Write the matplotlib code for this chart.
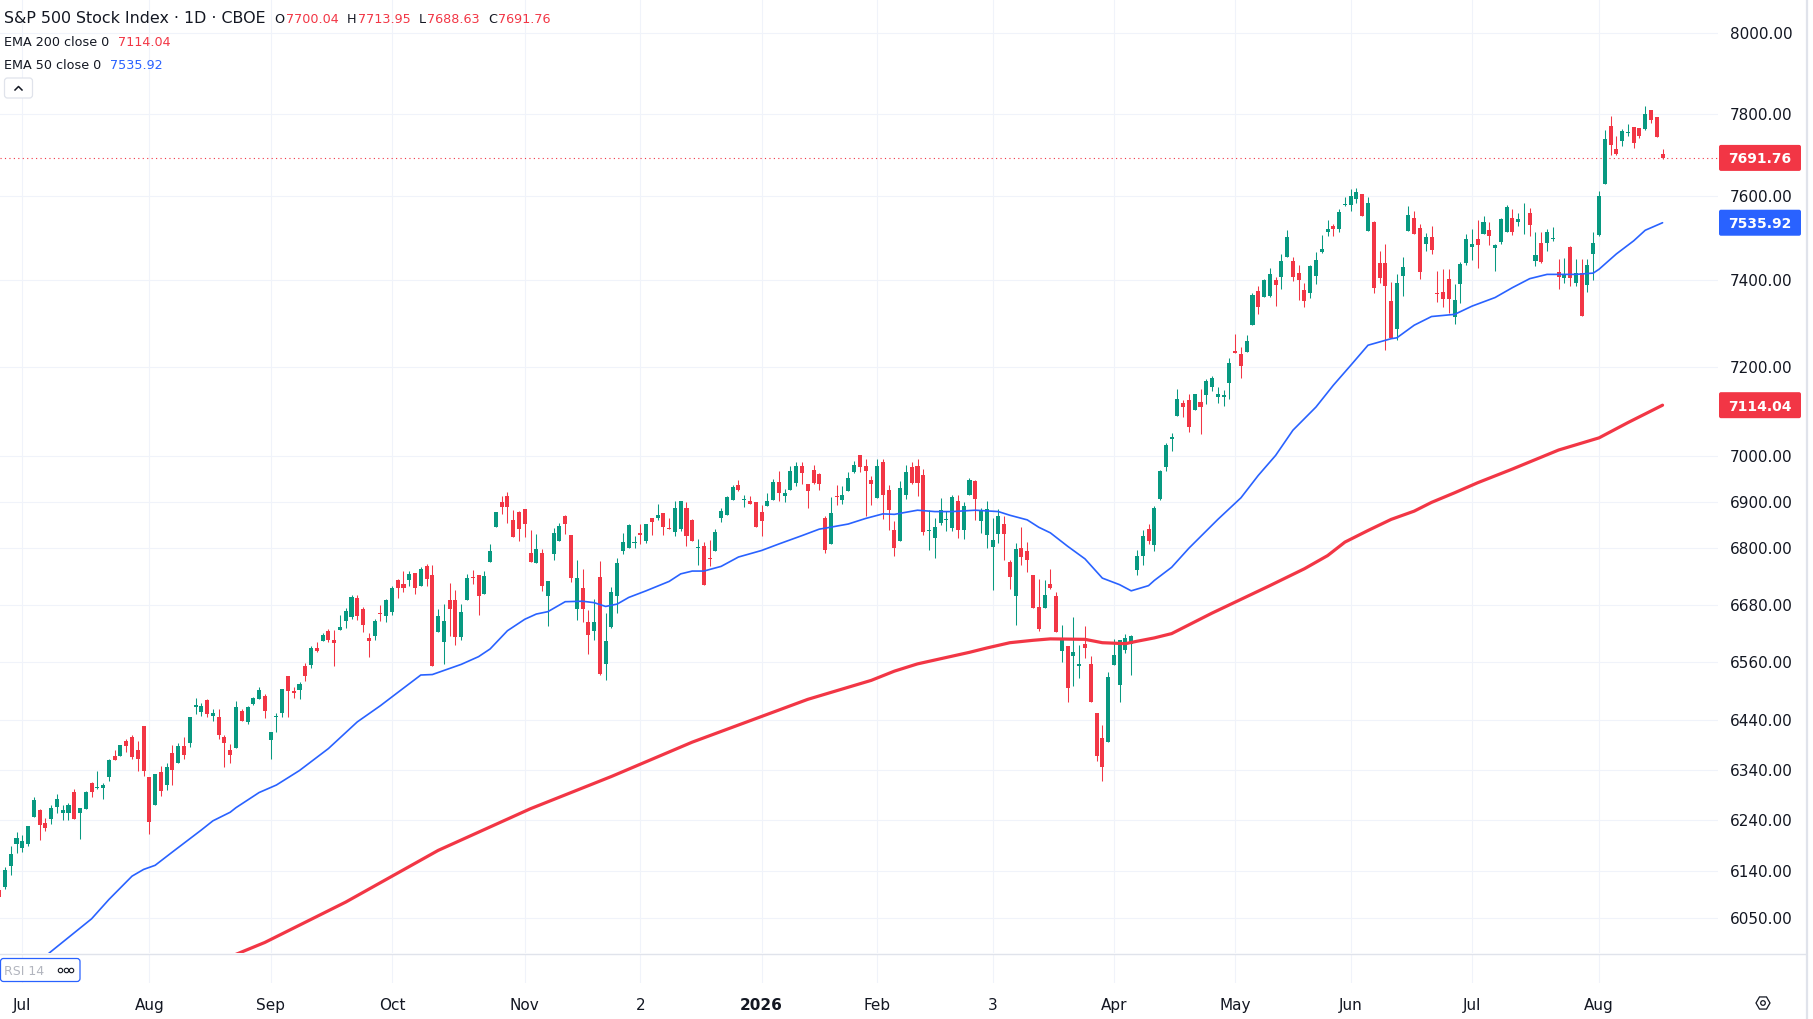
#S&P 500 daily candles with EMA 50 / EMA 200, TradingView look

import numpy as np
import matplotlib
matplotlib.use('Agg')
import matplotlib.pyplot as plt
import matplotlib.transforms as mtransforms
from matplotlib.patches import FancyBboxPatch, RegularPolygon, Circle
from matplotlib.lines import Line2D
from matplotlib.ticker import NullLocator, NullFormatter

#Daily OHLC, late Jun 2025 .. 18 Aug 2026 (one row per month)
opens = [6105, 6110, 6151, 6194,
    6186, 6194, 6247, 6260, 6235, 6243, 6267, 6255, 6255, 6296, 6255, 6262, 6313, 6304, 6305, 6326, 6369, 6369, 6398, 6407, 6381, 6428,
    6326, 6271, 6336, 6310, 6375, 6354, 6388, 6394, 6467, 6457, 6481, 6450, 6446, 6407, 6381, 6385, 6460, 6436, 6473, 6484, 6490,
    6401, 6446, 6456, 6531, 6500, 6503, 6551, 6553, 6590, 6603, 6625, 6605, 6626, 6645, 6654, 6694, 6670, 6609, 6614, 6663, 6656,
    6665, 6732, 6724, 6732, 6747, 6720, 6762, 6743, 6622, 6601, 6689, 6689, 6611, 6690, 6739, 6743, 6703, 6771, 6846, 6899, 6912, 6861, 6879,
    6884, 6790, 6769, 6790, 6697, 6787, 6816, 6869, 6828, 6671, 6715, 6643, 6624, 6739, 6555, 6633, 6697, 6793, 6801,
    6811, 6832, 6816, 6866, 6865, 6875, 6843, 6834, 6841, 6887, 6861, 6801, 6804, 6779, 6793, 6866, 6871, 6904, 6937, 6904, 6901, 6900,
    6879, 6891, 6905, 6944, 6913, 6925, 6942, 6978, 6939, 6970, 6961, 6866, 6809, 6913, 6905, 6923, 6966, 7003, 6978, 6947,
    6908, 6987, 6925, 6839, 6816, 6916, 6976, 6978, 6959, 6837, 6821, 6854, 6861, 6843, 6902, 6839, 6915, 6946, 6858,
    6828, 6802, 6831, 6851, 6771, 6699, 6800, 6793, 6743, 6674, 6672, 6724, 6699, 6582, 6593, 6573, 6551, 6598, 6555, 6456, 6405, 6396,
    6554, 6513, 6584, 6597, 6754, 6784, 6841, 6806, 6906, 6977, 7038, 7089, 7120, 7125, 7103, 7121, 7136, 7154, 7133, 7132, 7163,
    7237, 7231, 7234, 7296, 7376, 7362, 7363, 7402, 7409, 7454, 7445, 7417, 7378, 7370, 7411, 7467, 7515, 7529, 7521, 7578,
    7579, 7593, 7605, 7516, 7537, 7440, 7440, 7351, 7288, 7410, 7516, 7548, 7524, 7485, 7501, 7370, 7372, 7404, 7314, 7392, 7440,
    7479, 7497, 7508, 7518, 7475, 7490, 7513, 7548, 7537, 7573, 7558, 7446, 7489, 7489, 7498, 7420, 7406, 7479, 7395, 7417, 7389, 7462,
    7506, 7629, 7769, 7714, 7733, 7753, 7767, 7765, 7763, 7808, 7791, 7700.04]

highs = [6108, 6148, 6190, 6218,
    6211, 6229, 6286, 6262, 6245, 6270, 6292, 6270, 6274, 6303, 6265, 6298, 6316, 6337, 6313, 6363, 6381, 6390, 6403, 6410, 6398, 6428,
    6326, 6331, 6347, 6353, 6390, 6395, 6407, 6446, 6486, 6475, 6483, 6463, 6463, 6410, 6392, 6479, 6463, 6470, 6487, 6509, 6493,
    6416, 6455, 6504, 6532, 6509, 6519, 6557, 6593, 6601, 6620, 6628, 6626, 6658, 6673, 6701, 6701, 6674, 6620, 6649, 6680, 6691,
    6720, 6734, 6751, 6751, 6747, 6759, 6766, 6764, 6670, 6681, 6726, 6711, 6681, 6744, 6754, 6743, 6751, 6809, 6878, 6912, 6922, 6882, 6881,
    6884, 6840, 6830, 6799, 6730, 6844, 6855, 6871, 6828, 6775, 6756, 6668, 6691, 6773, 6662, 6717, 6779, 6833, 6853,
    6826, 6851, 6852, 6866, 6896, 6875, 6866, 6901, 6901, 6900, 6862, 6820, 6813, 6818, 6841, 6887, 6913, 6938, 6947, 6916, 6913, 6900,
    6894, 6919, 6950, 6967, 6929, 6978, 6987, 6987, 6939, 6982, 6964, 6870, 6910, 6938, 6935, 6966, 6990, 7003, 6994, 6957,
    6994, 6994, 6936, 6859, 6946, 6981, 6988, 6994, 6973, 6882, 6864, 6909, 6880, 6916, 6916, 6899, 6953, 6948, 6887,
    6901, 6866, 6885, 6870, 6774, 6811, 6845, 6813, 6743, 6734, 6732, 6756, 6706, 6636, 6593, 6653, 6596, 6634, 6573, 6456, 6430, 6539,
    6608, 6606, 6618, 6616, 6795, 6839, 6852, 6891, 6970, 7029, 7052, 7150, 7125, 7140, 7140, 7150, 7174, 7181, 7154, 7149, 7221,
    7275, 7246, 7274, 7370, 7387, 7404, 7430, 7409, 7461, 7518, 7455, 7435, 7395, 7435, 7467, 7507, 7542, 7534, 7569, 7598,
    7616, 7619, 7605, 7598, 7541, 7469, 7485, 7397, 7414, 7455, 7577, 7565, 7532, 7511, 7529, 7423, 7427, 7427, 7392, 7444, 7508,
    7522, 7542, 7551, 7538, 7485, 7547, 7579, 7568, 7560, 7582, 7570, 7513, 7513, 7521, 7526, 7451, 7452, 7481, 7451, 7451, 7450, 7513,
    7611, 7759, 7794, 7745, 7763, 7774, 7767, 7765, 7818, 7810, 7791, 7713.95]

lows = [6088, 6107, 6133, 6176,
    6177, 6190, 6247, 6202, 6220, 6233, 6254, 6240, 6240, 6242, 6203, 6262, 6286, 6303, 6282, 6318, 6361, 6369, 6376, 6362, 6337, 6328,
    6213, 6270, 6289, 6301, 6311, 6353, 6363, 6386, 6453, 6448, 6446, 6439, 6403, 6345, 6354, 6385, 6439, 6432, 6472, 6484, 6445,
    6362, 6417, 6447, 6446, 6485, 6484, 6520, 6547, 6580, 6603, 6601, 6551, 6626, 6631, 6649, 6648, 6622, 6571, 6606, 6646, 6643,
    6658, 6694, 6707, 6720, 6702, 6720, 6720, 6551, 6622, 6556, 6614, 6595, 6606, 6690, 6724, 6658, 6703, 6771, 6846, 6873, 6855, 6823, 6816,
    6823, 6770, 6769, 6709, 6634, 6774, 6816, 6831, 6727, 6648, 6643, 6576, 6605, 6534, 6522, 6631, 6662, 6787, 6801,
    6801, 6810, 6811, 6829, 6860, 6828, 6841, 6827, 6837, 6804, 6816, 6764, 6722, 6761, 6793, 6857, 6871, 6904, 6924, 6889, 6895, 6846,
    6827, 6891, 6905, 6902, 6899, 6925, 6935, 6939, 6886, 6939, 6925, 6790, 6809, 6893, 6896, 6923, 6964, 6966, 6870, 6893,
    6908, 6862, 6840, 6783, 6816, 6907, 6939, 6913, 6828, 6797, 6779, 6850, 6836, 6838, 6822, 6819, 6915, 6860, 6833,
    6800, 6711, 6812, 6774, 6713, 6637, 6764, 6748, 6672, 6624, 6672, 6713, 6622, 6559, 6477, 6510, 6526, 6569, 6477, 6358, 6318, 6396,
    6554, 6477, 6579, 6534, 6743, 6764, 6809, 6793, 6905, 6968, 7011, 7089, 7087, 7054, 7103, 7049, 7116, 7146, 7118, 7112, 7129,
    7232, 7176, 7234, 7296, 7322, 7362, 7361, 7341, 7379, 7454, 7399, 7355, 7337, 7360, 7391, 7464, 7504, 7504, 7513, 7577,
    7563, 7584, 7551, 7516, 7370, 7395, 7240, 7267, 7261, 7364, 7516, 7508, 7404, 7469, 7462, 7350, 7339, 7324, 7298, 7348, 7435,
    7448, 7428, 7508, 7482, 7423, 7485, 7513, 7507, 7529, 7509, 7504, 7434, 7440, 7469, 7493, 7379, 7395, 7386, 7386, 7317, 7373, 7401,
    7504, 7629, 7698, 7698, 7720, 7745, 7716, 7741, 7761, 7776, 7743, 7688.63]

closes = [6091, 6143, 6174, 6205,
    6200, 6229, 6280, 6230, 6225, 6264, 6282, 6260, 6270, 6243, 6264, 6297, 6296, 6306, 6310, 6360, 6361, 6390, 6388, 6367, 6362, 6337,
    6237, 6331, 6298, 6345, 6339, 6388, 6371, 6446, 6472, 6470, 6453, 6455, 6411, 6395, 6370, 6467, 6439, 6467, 6486, 6502, 6460,
    6416, 6449, 6504, 6500, 6495, 6515, 6531, 6588, 6582, 6616, 6606, 6599, 6632, 6666, 6696, 6656, 6637, 6604, 6645, 6660, 6690,
    6714, 6716, 6716, 6744, 6714, 6756, 6735, 6551, 6655, 6645, 6671, 6611, 6664, 6737, 6737, 6699, 6741, 6794, 6877, 6889, 6889, 6823, 6841,
    6853, 6771, 6799, 6720, 6730, 6833, 6848, 6851, 6737, 6737, 6670, 6616, 6643, 6535, 6603, 6706, 6769, 6813, 6850,
    6813, 6829, 6852, 6857, 6871, 6846, 6841, 6887, 6901, 6827, 6816, 6802, 6722, 6776, 6834, 6880, 6910, 6933, 6927, 6905, 6895, 6846,
    6859, 6903, 6944, 6920, 6920, 6967, 6978, 6963, 6924, 6942, 6939, 6797, 6875, 6911, 6916, 6952, 6981, 6977, 6968, 6939,
    6978, 6916, 6882, 6800, 6931, 6966, 6941, 6942, 6834, 6839, 6845, 6882, 6862, 6910, 6839, 6891, 6948, 6907, 6882,
    6885, 6818, 6870, 6831, 6739, 6799, 6782, 6775, 6672, 6628, 6700, 6714, 6622, 6607, 6507, 6581, 6556, 6590, 6477, 6369, 6345, 6529,
    6574, 6606, 6610, 6614, 6784, 6827, 6816, 6887, 6968, 7025, 7044, 7129, 7109, 7065, 7140, 7110, 7168, 7176, 7140, 7138, 7210,
    7232, 7202, 7260, 7366, 7337, 7400, 7414, 7389, 7445, 7501, 7409, 7401, 7353, 7434, 7447, 7473, 7522, 7521, 7562, 7579,
    7600, 7609, 7551, 7584, 7383, 7406, 7386, 7267, 7395, 7432, 7555, 7508, 7419, 7501, 7472, 7368, 7357, 7357, 7354, 7439, 7498,
    7485, 7482, 7538, 7504, 7482, 7544, 7573, 7515, 7544, 7574, 7531, 7459, 7442, 7513, 7499, 7408, 7414, 7406, 7418, 7317, 7436, 7489,
    7599, 7737, 7723, 7702, 7758, 7754, 7729, 7746, 7798, 7784, 7743, 7691.76]

first_bar = -4   # bar 0 = 1 Jul 2025

#EMA values at some bars
ema50_bar = [2, 5, 12, 15, 19, 21, 23, 26, 31, 33, 36, 37, 41, 44, 48, 53, 58, 62, 65, 69, 71, 76, 79, 81, 84, 87,
             89, 91, 94, 97, 99, 101, 103, 105, 108, 112, 114, 116, 118, 121, 124, 128, 131, 135, 138, 139, 143, 146,
             149, 151, 155, 158, 161, 165, 169, 171, 174, 176, 178, 181, 184, 187, 190, 192, 195, 196, 199, 202, 207,
             211, 214, 217, 220, 224, 227, 230, 233, 237, 238, 241, 244, 248, 251, 255, 258, 261, 264, 269, 272, 273,
             276, 279, 281, 284]
ema50_val = [5960, 5987, 6049, 6086, 6131, 6144, 6152, 6178, 6221, 6239, 6256, 6265, 6295, 6310, 6339, 6383, 6437, 6470,
             6497, 6533, 6534, 6555, 6571, 6587, 6625, 6649, 6660, 6665, 6686, 6687, 6684, 6676, 6681, 6695, 6709, 6729,
             6745, 6751, 6751, 6761, 6781, 6795, 6809, 6827, 6841, 6843, 6852, 6864, 6874, 6873, 6882, 6879, 6879, 6882,
             6879, 6871, 6861, 6845, 6833, 6804, 6777, 6736, 6722, 6709, 6720, 6731, 6759, 6800, 6862, 6909, 6958, 7002,
             7058, 7110, 7159, 7204, 7250, 7265, 7267, 7296, 7316, 7321, 7340, 7360, 7383, 7404, 7414, 7414, 7417, 7426,
             7462, 7493, 7518, 7535.92]

ema200_bar = [30, 38, 42, 56, 72, 88, 102, 116, 136, 147, 151, 155, 158, 164, 167, 171, 175, 178, 184, 187, 191, 193,
              196, 199, 206, 216, 222, 226, 229, 233, 237, 241, 244, 248, 252, 258, 266, 273, 278, 284]
ema200_val = [5950, 5986, 6004, 6081, 6181, 6263, 6327, 6396, 6483, 6522, 6541, 6556, 6564, 6580, 6589, 6600, 6605, 6608,
              6607, 6600, 6598, 6603, 6610, 6619, 6662, 6720, 6756, 6784, 6813, 6838, 6862, 6880, 6899, 6920, 6942, 6972,
              7014, 7041, 7075, 7114.04]

price_ticks = [8000, 7800, 7600, 7400, 7200, 7000, 6900, 6800, 6680, 6560, 6440, 6340, 6240, 6140, 6050]
month_bars = [0, 22, 43, 64, 87, 107, 128, 148, 168, 189, 210, 230, 251, 273]
month_labels = ['Jul', 'Aug', 'Sep', 'Oct', 'Nov', '2', '2026', 'Feb', '3', 'Apr', 'May', 'Jun', 'Jul', 'Aug']

last_price = 7691.76
ema200_last = 7114.04
ema50_last = 7535.92

UP = '#089981'
DOWN = '#F23645'
BLUE = '#2962FF'
TXT = '#131722'
GRID = '#f0f3fa'
BORDER = '#e0e3eb'

W, H = 1813, 1019
plt.rcParams['font.family'] = ['DejaVu Sans']
fig = plt.figure(figsize=(W / 100, H / 100), dpi=100)
fig.patch.set_facecolor('white')
PX = mtransforms.IdentityTransform()

ax = fig.add_axes([0, 1 - 953 / H, 1718 / W, 953 / H])
ax_rsi = fig.add_axes([0, 1 - 983 / H, 1718 / W, 29 / H], sharex=ax)

#Candles
o = np.array(opens); h = np.array(highs); l = np.array(lows); c = np.array(closes)
x = np.arange(len(c)) + first_bar
up = c >= o
cols = np.where(up, UP, DOWN)
ax.vlines(x, l, h, colors=cols, linewidth=0.75, zorder=3)
ax.bar(x, np.maximum(np.abs(c - o), 1.5), bottom=np.minimum(o, c), width=0.7,
       color=cols, linewidth=0, zorder=4)

#EMAs
ax.plot(ema200_bar, ema200_val, color=DOWN, lw=2.3, zorder=5, solid_capstyle='round', solid_joinstyle='round')
ax.plot(ema50_bar, ema50_val, color=BLUE, lw=1.2, zorder=5, solid_capstyle='round', solid_joinstyle='round')

#Last price dotted line
ax.axhline(last_price, color=DOWN, lw=0.8, ls=(0, (1, 3)), zorder=2)

#Scales
ax.set_yscale('log')
ax.set_ylim(5984, 8085)
ax.set_xlim(-3.86, 293.6)
ax.yaxis.set_minor_locator(NullLocator())
ax.yaxis.set_minor_formatter(NullFormatter())
ax.set_yticks(price_ticks)
ax.set_yticklabels(['%.2f' % v for v in price_ticks])
ax.yaxis.tick_right()
ax.tick_params(axis='y', length=0, pad=8.6, labelsize=11, labelcolor=TXT)
ax.set_xticks(month_bars)
ax.tick_params(axis='x', length=0, labelbottom=False)
ax.grid(True, color=GRID, lw=0.8, zorder=0)
for s in ax.spines.values():
    s.set_visible(False)

ax_rsi.set_yticks([])
ax_rsi.set_xticks(month_bars)
ax_rsi.set_xticklabels(month_labels)
ax_rsi.tick_params(axis='x', length=0, pad=10.5, labelsize=11, labelcolor=TXT)
ax_rsi.xaxis.get_ticklabels()[6].set_fontweight('bold')
ax_rsi.grid(True, axis='x', color=GRID, lw=0.8)
for s in ax_rsi.spines.values():
    s.set_visible(False)

#Pane separators and right border
fig.add_artist(Line2D([0, 1806], [H - 953.5, H - 953.5], color=BORDER, lw=1, transform=PX))
fig.add_artist(Line2D([1806.5, 1806.5], [0, H], color=BORDER, lw=1.6, transform=PX))

#Price labels on the axis
def price_box(price, color):
    yd = ax.transData.transform((0, price))[1]
    fig.add_artist(FancyBboxPatch((1719, yd - 13), 82, 26, boxstyle='round,pad=0,rounding_size=2',
                                  fc=color, ec='none', transform=PX))
    fig.text(1760, yd, '%.2f' % price, transform=PX, ha='center', va='center_baseline',
             color='white', fontsize=10, fontweight='bold')

price_box(last_price, DOWN)
price_box(ema50_last, BLUE)
price_box(ema200_last, DOWN)

#Header legend
def chain(prev, s, color, gap_px, size):
    return ax.annotate(s, xy=(1, 0), xycoords=prev, xytext=(gap_px * 0.72, 0), textcoords='offset points',
                       va='bottom', ha='left', color=color, fontsize=size)

t = fig.text(4, H - 23, 'S&P 500 Stock Index · 1D · CBOE', transform=PX, va='baseline',
             color=TXT, fontsize=11.4)
prev = t
for lab, val in [('O', opens[-1]), ('H', highs[-1]), ('L', lows[-1]), ('C', closes[-1])]:
    prev = chain(prev, lab, TXT, 9 if prev is t else 8, 9.2)
    prev = chain(prev, '%.2f' % val, DOWN, 1.5, 9.2)

t2 = fig.text(4, H - 46, 'EMA 200 close 0', transform=PX, va='baseline', color=TXT, fontsize=9.2)
chain(t2, '%.2f' % ema200_last, DOWN, 9, 9.2)
t3 = fig.text(4, H - 69, 'EMA 50 close 0', transform=PX, va='baseline', color=TXT, fontsize=9.2)
chain(t3, '%.2f' % ema50_last, BLUE, 9, 9.2)

#Collapse button
fig.add_artist(FancyBboxPatch((4.5, H - 98), 28, 20, boxstyle='round,pad=0,rounding_size=3',
                              fc='white', ec=BORDER, lw=0.9, transform=PX))
fig.add_artist(Line2D([15, 18.5, 22], [H - 90, H - 86.5, H - 90], color=TXT, lw=1.1, transform=PX))

#RSI pane tag
fig.add_artist(FancyBboxPatch((0.5, H - 981.5), 79.5, 23, boxstyle='round,pad=0,rounding_size=3',
                              fc='white', ec=BLUE, lw=0.9, transform=PX))
fig.text(4, H - 970, 'RSI 14', transform=PX, va='center_baseline', ha='left', color='#b2b5be', fontsize=9)
fig.add_artist(Line2D([60, 65.5, 71], [H - 970] * 3, ls='none', marker='o', ms=3.2, mfc='none',
                      mec=TXT, mew=0.8, transform=PX))

#Settings gear
fig.add_artist(RegularPolygon((1763, H - 1003), 6, radius=7, orientation=np.pi / 6,
                              fc='none', ec=TXT, lw=0.9, transform=PX))
fig.add_artist(Circle((1763, H - 1003), 2.3, fc='none', ec=TXT, lw=0.9, transform=PX))

fig.savefig('out.png', dpi=100)
